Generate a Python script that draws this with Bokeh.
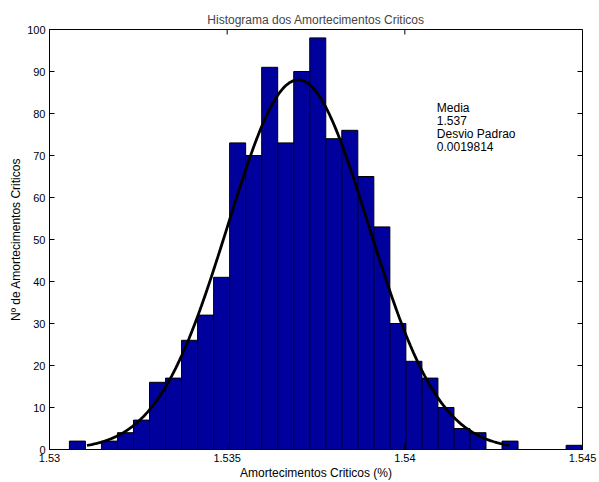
import numpy as np
from bokeh.plotting import figure
from bokeh.models import FixedTicker, Range1d, ColumnDataSource
from bokeh.core.properties import value
from bokeh.embed import file_html
from bokeh.resources import INLINE

# ---- data ----
TITLE = "Histograma dos Amortecimentos Criticos"
X_LABEL = "Amortecimentos Criticos (%)"
Y_LABEL = "Nº de Amortecimentos Criticos"

X_MIN, X_MAX = 1.53, 1.545
Y_MIN, Y_MAX = 0, 100

BIN_MIN = 1.53056
BIN_MAX = 1.54499
COUNTS = [2, 0, 2, 4, 7, 16, 17, 26, 32, 41, 73, 70, 91, 73, 90, 98,
          74, 76, 65, 53, 30, 21, 17, 10, 5, 4, 0, 2, 0, 0, 0, 1]

MEAN = 1.537
STD = 0.0019814
CURVE_PEAK = 88.0

X_TICKS = [1.53, 1.535, 1.54, 1.545]
X_TICK_LABELS = ["1.53", "1.535", "1.54", "1.545"]
Y_TICKS = [0, 10, 20, 30, 40, 50, 60, 70, 80, 90, 100]

NOTE_LINES = ["Media", "1.537", "Desvio Padrao", "0.0019814"]
NOTE_X = 1.5409
NOTE_Y = 83.0

FONT = "Liberation Sans"
BAR_COLOR = "#00009C"

# ---- figure ----
p = figure(width=599, height=482, title=TITLE,
           x_range=Range1d(X_MIN, X_MAX), y_range=Range1d(Y_MIN, Y_MAX),
           output_backend="svg", toolbar_location=None,
           min_border_left=49, min_border_right=17,
           min_border_top=29, min_border_bottom=33)
p.grid.visible = False
p.background_fill_color = "white"
p.border_fill_color = "white"
p.outline_line_color = "black"
p.outline_line_width = 1
p.outline_line_alpha = 1.0

p.title.text_font = FONT
p.title.text_font_size = "12px"
p.title.text_font_style = "normal"
p.title.align = "center"
p.title.standoff = 5

# histogram bars
edges = np.linspace(BIN_MIN, BIN_MAX, len(COUNTS) + 1)
bars = ColumnDataSource(dict(left=edges[:-1], right=edges[1:], top=COUNTS))
p.quad(left="left", right="right", bottom=0, top="top", source=bars,
       fill_color=BAR_COLOR, line_color="black", line_width=1)

# fitted normal curve (mean ± 3 std, as stated in the note)
xc = np.linspace(MEAN - 3 * STD, MEAN + 3 * STD, 300)
yc = CURVE_PEAK * np.exp(-0.5 * ((xc - MEAN) / STD) ** 2)
p.line(xc, yc, line_color="black", line_width=2.8)

# note text
p.text(x=[NOTE_X], y=[NOTE_Y], text=["\n".join(NOTE_LINES)],
       text_font=value(FONT), text_font_size="12px", text_color="black",
       text_align="left", text_baseline="top", text_line_height=0.93)

# inward tick marks on the top and right edges of the box
p.ray(x=X_TICKS, y=[Y_MAX] * len(X_TICKS), length=5, length_units="screen",
      angle=-np.pi / 2, line_color="black", line_width=1)
p.ray(x=[X_MAX] * len(Y_TICKS), y=Y_TICKS, length=5, length_units="screen",
      angle=np.pi, line_color="black", line_width=1)

# axes
xa = p.xaxis[0]
ya = p.yaxis[0]
xa.ticker = FixedTicker(ticks=X_TICKS)
xa.major_label_overrides = dict(zip(X_TICKS, X_TICK_LABELS))
ya.ticker = FixedTicker(ticks=Y_TICKS)
for ax in (xa, ya):
    ax.axis_line_color = "black"
    ax.major_tick_line_color = "black"
    ax.major_tick_in = 5
    ax.major_tick_out = 0
    ax.minor_tick_line_color = None
    ax.major_label_text_font = FONT
    ax.major_label_text_color = "black"
    ax.major_label_text_font_size = "11px"
    ax.major_label_standoff = 4
    ax.axis_label_text_font = FONT
    ax.axis_label_text_font_size = "12px"
    ax.axis_label_text_font_style = "normal"
    ax.axis_label_text_color = "black"
xa.axis_label = X_LABEL
ya.axis_label = Y_LABEL
xa.axis_label_standoff = 1
ya.axis_label_standoff = 1

open("out.html", "w").write(file_html(p, INLINE))
